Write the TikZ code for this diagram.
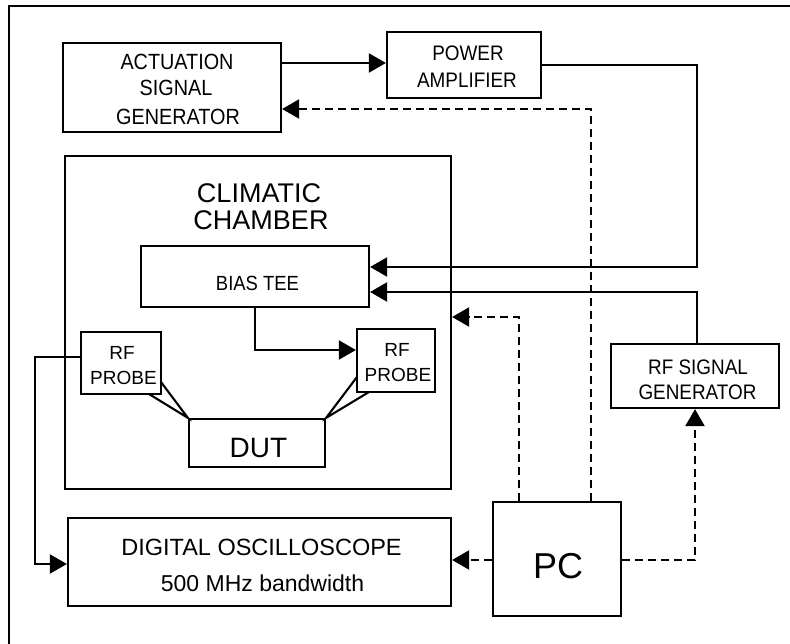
\documentclass[tikz,border=0pt]{standalone}
\usepackage{fontspec}
\setmainfont{Liberation Sans}
\newfontfamily\condfont[FakeStretch=0.9]{Liberation Sans}
\usetikzlibrary{arrows.meta}
\tikzset{
  box/.style={draw, line width=2.2pt, inner sep=0pt, rectangle},
  lbl/.style={inner sep=0pt, anchor=center},
  conn/.style={line width=2.1pt},
  arr/.style={conn, -{Triangle[length=17pt,width=19pt]}},
  dsh/.style={conn, dash pattern=on 8pt off 5pt},
  darr/.style={dsh, -{Triangle[length=17pt,width=19pt]}},
}
\newcommand{\fs}[1]{\fontsize{#1}{#1}\selectfont}
\begin{document}
\begin{tikzpicture}[x=1pt,y=-1pt]
\useasboundingbox (0,0) rectangle (790,644);
% frame (only top and left visible)
\draw[line width=2.8pt] (9,644) -- (9,6) -- (790,6);

% boxes
\node[box, minimum width=218pt, minimum height=89pt] (asg) at (172,87.5) {};
\node[box, minimum width=154pt, minimum height=66pt] (pa) at (464,65) {};
\node[box, minimum width=386pt, minimum height=333pt] (ch) at (258,322.5) {};
\node[box, minimum width=228pt, minimum height=61pt] (bt) at (255,276.5) {};
\node[box, minimum width=80pt, minimum height=62pt] (lp) at (121,363) {};
\node[box, minimum width=78pt, minimum height=63pt] (rp) at (396,360.5) {};
\node[box, minimum width=136pt, minimum height=48pt] (dut) at (257,443) {};
\node[box, minimum width=383pt, minimum height=88pt] (sc) at (259.5,562) {};
\node[box, minimum width=128pt, minimum height=114pt] (pc) at (557,559) {};
\node[box, minimum width=168pt, minimum height=64pt] (rfg) at (695,376) {};

% texts
\node[lbl] (asgt1) at (177,62) {\condfont\fs{22}ACTUATION};
\node[lbl] (asgt2) at (176,88) {\condfont\fs{22}SIGNAL};
\node[lbl] (asgt3) at (178,117) {\condfont\fs{22}GENERATOR};
\node[lbl] (pat1) at (468,53) {\condfont\fs{21}POWER};
\node[lbl] (pat2) at (467,80) {\condfont\fs{21}AMPLIFIER};
\node[lbl] (cht1) at (259,193) {\fs{27}CLIMATIC};
\node[lbl] (cht2) at (261,220) {\fs{27}CHAMBER};
\node[lbl] (btt) at (257.5,283) {\condfont\fs{20.5}BIAS TEE};
\node[lbl] (lpt1) at (122,353) {\fs{19}RF};
\node[lbl] (lpt2) at (123.5,378) {\fs{19}PROBE};
\node[lbl] (rpt1) at (397,350) {\fs{19}RF};
\node[lbl] (rpt2) at (398,375) {\fs{19}PROBE};
\node[lbl] (dutt) at (258.5,448) {\fs{28}DUT};
\node[lbl] (sct1) at (261.5,547) {\fs{23.5}DIGITAL OSCILLOSCOPE};
\node[lbl] (sct2) at (262.5,583) {\fs{23}500 MHz bandwidth};
\node[lbl] (pct) at (558,566) {\fs{36}PC};
\node[lbl] (rfgt1) at (698,367) {\condfont\fs{21}RF SIGNAL};
\node[lbl] (rfgt2) at (697.5,392) {\condfont\fs{21}GENERATOR};

% helper coordinates
\coordinate (c1) at (591,109);
\coordinate (c3) at (697,267);
\coordinate (c4) at (697,292);
\coordinate (c5) at (255,350);
\coordinate (c6) at (35,357);
\coordinate (c7) at (35,564);
\coordinate (c8) at (0,560);
\coordinate (c9) at (695,560);
\coordinate (c10) at (519,317);
\coordinate (l1) at (149,394);
\coordinate (l2) at (161,382);
\coordinate (r1) at (369,392);
\coordinate (r2) at (357,377);

% connectors
\draw[arr] (asg.east |- 0,63) -- (pa.west |- 0,63);
\draw[darr] (pc.north -| c1) -- (c1) -- (c1 -| asg.east);
\draw[arr] (pa.east) -| (c3) -- (c3 -| bt.east);
\draw[arr] (rfg.north -| c4) -- (c4) -- (c4 -| bt.east);
\draw[arr] (bt.south) |- (rp.west |- c5);
\draw[arr] (lp.west |- c6) -- (c6) -- (c7) -- (c7 -| sc.west);
\draw[darr] (pc.west |- c8) -- (sc.east |- c8);
\draw[darr] (pc.east |- c9) -- (c9) -- (c9 |- rfg.south);
\draw[darr] (pc.north -| c10) -- (c10) -- (c10 -| ch.east);
\draw[conn] (l1) -- (dut.north west) -- (l2);
\draw[conn] (r1) -- (dut.north east) -- (r2);
\end{tikzpicture}
\end{document}
